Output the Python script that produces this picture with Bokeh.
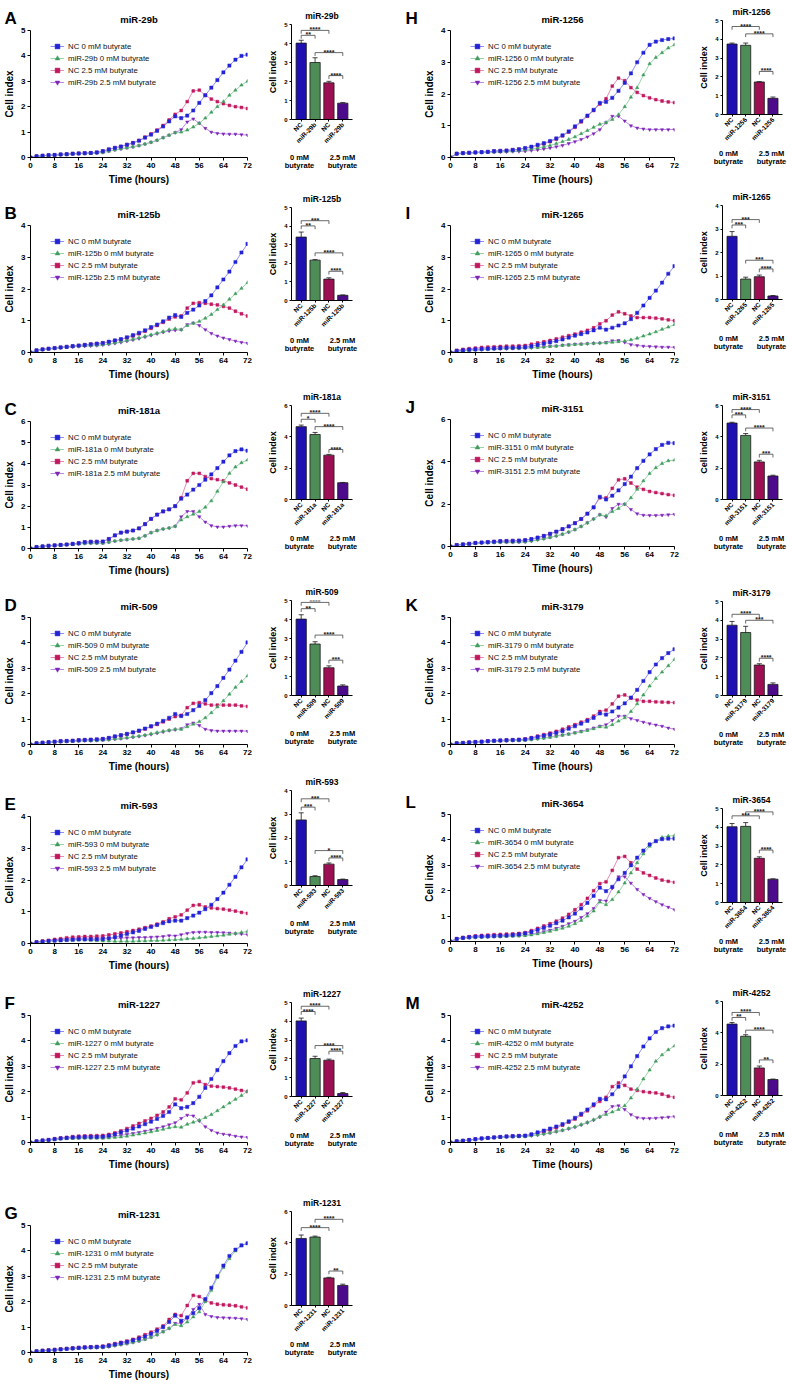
import math
from bokeh.plotting import figure
from bokeh.models import (Range1d, FactorRange, FixedTicker, LabelSet,
                          ColumnDataSource, Whisker, TeeHead, Legend, LegendItem)
from bokeh.layouts import row, column
from bokeh.embed import file_html
from bokeh.resources import INLINE
from bokeh.core.properties import value

FONT = "Liberation Sans"

# sampling grid of the real-time cell analysis curves (hours)
HOURS = list(range(0, 73, 2))

# ---------------- line-chart data (Cell index) ----------------
A_NC0 = [0.00,0.05,0.07,0.09,0.10,0.12,0.13,0.15,0.16,0.17,0.18,0.20,0.25, 0.32,0.38,0.43,0.50,0.57,0.66,0.78,0.90,1.05,1.22,1.42,1.62, 1.55,1.65,1.85,2.15,2.45,2.75,3.05,3.35,3.62,3.85,4.00,4.05]
A_MIR0 = [0.00,0.05,0.07,0.08,0.10,0.11,0.12,0.14,0.15,0.16,0.17,0.18,0.20, 0.25,0.30,0.34,0.38,0.42,0.47,0.53,0.60,0.68,0.78,0.88,0.98, 1.00,1.08,1.20,1.35,1.55,1.78,2.00,2.20,2.45,2.65,2.85,3.00]
A_NC25 = [0.00,0.05,0.07,0.09,0.10,0.12,0.13,0.15,0.16,0.17,0.18,0.20,0.25, 0.32,0.38,0.44,0.51,0.58,0.67,0.80,0.93,1.08,1.26,1.48,1.70, 1.85,2.20,2.62,2.65,2.45,2.30,2.20,2.12,2.05,2.00,1.97,1.93]
A_MIR25 = [0.00,0.05,0.07,0.08,0.10,0.11,0.12,0.14,0.15,0.16,0.17,0.18,0.20, 0.25,0.30,0.34,0.38,0.42,0.47,0.53,0.60,0.68,0.78,0.88,0.98, 1.10,1.40,1.52,1.35,1.15,1.00,0.95,0.93,0.92,0.92,0.90,0.88]

B_NC0 = [0.00,0.07,0.10,0.12,0.14,0.16,0.18,0.20,0.22,0.24,0.26,0.28,0.30, 0.34,0.38,0.42,0.48,0.55,0.62,0.70,0.80,0.88,0.98,1.10,1.18, 1.12,1.25,1.35,1.48,1.62,1.80,2.05,2.30,2.55,2.85,3.15,3.42]
B_MIR0 = [0.00,0.06,0.09,0.11,0.13,0.15,0.17,0.19,0.20,0.21,0.22,0.23,0.25, 0.27,0.30,0.34,0.38,0.42,0.46,0.51,0.56,0.61,0.66,0.72,0.75, 0.72,0.85,0.92,0.98,1.08,1.20,1.35,1.50,1.68,1.85,2.02,2.20]
B_NC25 = [0.00,0.07,0.10,0.12,0.14,0.16,0.18,0.20,0.22,0.24,0.26,0.28,0.30, 0.33,0.37,0.41,0.46,0.52,0.59,0.67,0.76,0.85,0.95,1.05,1.12, 1.15,1.40,1.55,1.57,1.55,1.52,1.50,1.45,1.40,1.30,1.22,1.15]
B_MIR25 = [0.00,0.06,0.09,0.11,0.13,0.15,0.17,0.18,0.19,0.20,0.21,0.22,0.24, 0.26,0.29,0.32,0.36,0.40,0.44,0.49,0.54,0.59,0.64,0.68,0.70, 0.72,0.88,0.93,0.85,0.72,0.60,0.52,0.46,0.41,0.36,0.32,0.29]

C_NC0 = [0.00,0.07,0.10,0.13,0.15,0.17,0.19,0.22,0.25,0.30,0.32,0.32,0.33, 0.45,0.62,0.75,0.80,0.85,0.95,1.15,1.40,1.60,1.75,1.85,2.00, 2.35,2.55,2.78,3.00,3.25,3.50,3.80,4.10,4.40,4.60,4.68,4.62]
C_MIR0 = [0.00,0.07,0.10,0.12,0.14,0.16,0.18,0.20,0.22,0.24,0.25,0.25,0.25, 0.30,0.35,0.39,0.42,0.45,0.48,0.60,0.75,0.85,0.92,0.97,1.05, 1.35,1.50,1.62,1.75,1.95,2.25,2.70,3.15,3.55,3.85,4.05,4.18]
C_NC25 = [0.00,0.07,0.10,0.13,0.15,0.17,0.19,0.22,0.25,0.30,0.32,0.32,0.33, 0.45,0.62,0.75,0.80,0.85,0.95,1.15,1.40,1.60,1.75,1.85,2.00, 2.40,3.20,3.55,3.55,3.40,3.30,3.25,3.20,3.10,3.00,2.90,2.80]
C_MIR25 = [0.00,0.07,0.10,0.12,0.14,0.16,0.18,0.20,0.22,0.24,0.25,0.25,0.25, 0.30,0.35,0.39,0.42,0.45,0.48,0.60,0.75,0.85,0.92,0.97,1.05, 1.50,1.75,1.75,1.50,1.25,1.08,1.02,1.02,1.05,1.08,1.08,1.07]

D_NC0 = [0.00,0.05,0.07,0.09,0.11,0.13,0.14,0.15,0.17,0.18,0.19,0.20,0.22, 0.26,0.32,0.37,0.42,0.48,0.55,0.63,0.72,0.82,0.93,1.05,1.20, 1.12,1.20,1.35,1.52,1.75,2.02,2.30,2.62,2.95,3.30,3.65,4.02]
D_MIR0 = [0.00,0.05,0.07,0.08,0.10,0.11,0.12,0.13,0.14,0.15,0.15,0.16,0.17, 0.19,0.22,0.24,0.27,0.30,0.33,0.37,0.42,0.47,0.52,0.56,0.60, 0.60,0.70,0.80,0.90,1.05,1.25,1.48,1.72,1.98,2.25,2.48,2.70]
D_NC25 = [0.00,0.05,0.07,0.09,0.11,0.13,0.14,0.15,0.17,0.18,0.19,0.20,0.22, 0.26,0.31,0.36,0.41,0.47,0.53,0.61,0.70,0.79,0.89,1.00,1.10, 1.15,1.45,1.62,1.65,1.60,1.55,1.55,1.55,1.55,1.55,1.52,1.50]
D_MIR25 = [0.00,0.05,0.07,0.08,0.10,0.11,0.12,0.13,0.14,0.15,0.15,0.16,0.17, 0.19,0.21,0.23,0.26,0.29,0.32,0.36,0.40,0.45,0.50,0.55,0.58, 0.62,0.78,0.85,0.75,0.60,0.55,0.53,0.53,0.53,0.53,0.53,0.52]

E_NC0 = [0.00,0.04,0.06,0.08,0.09,0.10,0.11,0.12,0.13,0.13,0.13,0.13,0.14, 0.16,0.20,0.25,0.30,0.35,0.40,0.46,0.52,0.58,0.64,0.70,0.72, 0.72,0.80,0.88,0.97,1.08,1.22,1.40,1.60,1.85,2.10,2.40,2.65]
E_MIR0 = [0.00,0.03,0.05,0.07,0.08,0.09,0.10,0.10,0.11,0.11,0.10,0.09,0.08, 0.08,0.07,0.07,0.07,0.07,0.08,0.08,0.09,0.09,0.10,0.11,0.12, 0.13,0.15,0.16,0.18,0.20,0.22,0.24,0.26,0.29,0.32,0.35,0.38]
E_NC25 = [0.00,0.05,0.08,0.10,0.13,0.15,0.18,0.20,0.21,0.22,0.22,0.23,0.24, 0.27,0.30,0.33,0.37,0.41,0.45,0.50,0.55,0.61,0.68,0.78,0.84, 0.90,1.05,1.20,1.22,1.15,1.12,1.10,1.08,1.05,1.02,0.98,0.95]
E_MIR25 = [0.00,0.04,0.06,0.09,0.11,0.13,0.14,0.15,0.16,0.17,0.17,0.17,0.17, 0.17,0.17,0.17,0.18,0.18,0.19,0.19,0.20,0.21,0.22,0.25,0.24, 0.28,0.32,0.35,0.36,0.36,0.35,0.35,0.34,0.33,0.31,0.30,0.28]

F_NC0 = [0.00,0.05,0.08,0.10,0.13,0.16,0.18,0.20,0.21,0.22,0.22,0.22,0.23, 0.27,0.33,0.40,0.47,0.55,0.63,0.72,0.82,0.93,1.05,1.20,1.50, 1.35,1.40,1.55,1.80,2.15,2.50,2.85,3.20,3.52,3.80,3.98,4.02]
F_MIR0 = [0.00,0.04,0.07,0.10,0.12,0.14,0.15,0.16,0.17,0.17,0.17,0.17,0.17, 0.18,0.20,0.22,0.25,0.29,0.33,0.37,0.42,0.47,0.52,0.58,0.62, 0.60,0.72,0.80,0.88,0.98,1.10,1.25,1.40,1.55,1.70,1.85,2.02]
F_NC25 = [0.00,0.05,0.08,0.11,0.15,0.18,0.20,0.23,0.25,0.26,0.27,0.27,0.28, 0.32,0.38,0.46,0.55,0.65,0.75,0.85,0.95,1.07,1.20,1.40,1.72, 1.68,1.95,2.35,2.40,2.28,2.22,2.20,2.18,2.15,2.10,2.05,2.00]
F_MIR25 = [0.00,0.04,0.07,0.10,0.13,0.15,0.17,0.18,0.19,0.19,0.19,0.19,0.19, 0.22,0.25,0.28,0.32,0.36,0.40,0.45,0.50,0.56,0.62,0.70,0.78, 0.95,1.08,1.05,0.85,0.62,0.48,0.38,0.33,0.30,0.25,0.22,0.20]

G_NC0 = [0.00,0.05,0.07,0.08,0.10,0.12,0.14,0.16,0.18,0.20,0.21,0.22,0.23, 0.27,0.32,0.37,0.42,0.48,0.55,0.63,0.73,0.85,1.00,1.20,1.45, 1.25,1.38,1.55,1.75,2.10,2.55,3.00,3.42,3.80,4.05,4.22,4.30]
G_MIR0 = [0.00,0.05,0.07,0.08,0.10,0.12,0.14,0.15,0.17,0.18,0.19,0.19,0.20, 0.23,0.27,0.31,0.35,0.40,0.45,0.52,0.60,0.70,0.82,0.95,1.10, 1.05,1.20,1.40,1.60,2.00,2.45,2.95,3.35,3.70,4.00,4.20,4.30]
G_NC25 = [0.00,0.05,0.08,0.10,0.12,0.14,0.16,0.18,0.20,0.21,0.22,0.23,0.25, 0.30,0.35,0.40,0.45,0.52,0.60,0.70,0.80,0.92,1.05,1.30,1.50, 1.45,1.85,2.25,2.20,2.05,1.95,1.90,1.88,1.86,1.84,1.80,1.76]
G_MIR25 = [0.00,0.05,0.07,0.08,0.10,0.12,0.14,0.15,0.17,0.18,0.19,0.19,0.20, 0.23,0.27,0.31,0.35,0.40,0.45,0.52,0.60,0.70,0.82,0.95,1.15, 1.15,1.35,1.70,1.90,1.50,1.42,1.38,1.37,1.36,1.35,1.33,1.30]

H_NC0 = [0.00,0.12,0.14,0.15,0.16,0.17,0.18,0.20,0.21,0.22,0.24,0.26,0.30, 0.34,0.40,0.45,0.52,0.60,0.70,0.82,0.98,1.15,1.32,1.50,1.72, 1.75,1.88,2.10,2.35,2.65,3.00,3.30,3.55,3.65,3.70,3.73,3.75]
H_MIR0 = [0.00,0.12,0.13,0.14,0.15,0.16,0.17,0.17,0.18,0.19,0.20,0.22,0.24, 0.27,0.30,0.34,0.38,0.44,0.50,0.57,0.65,0.75,0.85,0.95,1.05, 1.10,1.20,1.35,1.60,1.90,2.20,2.60,2.95,3.15,3.30,3.45,3.55]
H_NC25 = [0.00,0.12,0.14,0.15,0.16,0.17,0.18,0.20,0.21,0.22,0.24,0.26,0.29, 0.33,0.38,0.43,0.50,0.58,0.68,0.80,0.95,1.12,1.30,1.48,1.68, 1.85,2.25,2.50,2.42,2.20,2.05,1.95,1.88,1.82,1.78,1.75,1.73]
H_MIR25 = [0.00,0.11,0.13,0.14,0.15,0.16,0.17,0.17,0.18,0.18,0.19,0.19,0.20, 0.22,0.24,0.27,0.30,0.34,0.38,0.44,0.50,0.57,0.65,0.75,0.88, 1.10,1.30,1.30,1.15,1.00,0.93,0.90,0.88,0.88,0.88,0.88,0.88]

I_NC0 = [0.00,0.05,0.07,0.09,0.10,0.11,0.12,0.13,0.14,0.15,0.15,0.16,0.17, 0.20,0.24,0.28,0.32,0.36,0.41,0.47,0.53,0.58,0.63,0.70,0.78, 0.72,0.78,0.85,0.92,1.05,1.25,1.48,1.72,1.95,2.20,2.48,2.72]
I_MIR0 = [0.00,0.04,0.05,0.07,0.08,0.09,0.10,0.11,0.12,0.12,0.13,0.13,0.14, 0.15,0.16,0.17,0.19,0.20,0.22,0.23,0.25,0.26,0.28,0.29,0.30, 0.30,0.32,0.34,0.36,0.40,0.45,0.52,0.58,0.65,0.73,0.80,0.88]
I_NC25 = [0.00,0.07,0.10,0.12,0.14,0.16,0.17,0.18,0.19,0.20,0.20,0.21,0.22, 0.26,0.30,0.34,0.38,0.43,0.48,0.53,0.58,0.64,0.70,0.78,0.90, 1.00,1.18,1.28,1.22,1.15,1.10,1.10,1.10,1.08,1.06,1.03,1.00]
I_MIR25 = [0.00,0.04,0.05,0.07,0.08,0.09,0.10,0.11,0.12,0.12,0.13,0.13,0.14, 0.15,0.17,0.18,0.20,0.21,0.23,0.25,0.26,0.27,0.28,0.29,0.30, 0.32,0.37,0.38,0.32,0.25,0.22,0.20,0.19,0.18,0.17,0.17,0.16]

J_NC0 = [0.00,0.07,0.10,0.13,0.17,0.19,0.21,0.23,0.25,0.26,0.27,0.28,0.30, 0.35,0.42,0.50,0.60,0.70,0.82,0.95,1.10,1.30,1.55,1.85,2.35, 2.22,2.40,2.65,2.95,3.30,3.70,4.05,4.35,4.60,4.80,4.90,4.88]
J_MIR0 = [0.00,0.07,0.10,0.12,0.15,0.17,0.18,0.19,0.20,0.20,0.20,0.21,0.22, 0.26,0.32,0.37,0.43,0.50,0.58,0.68,0.80,0.95,1.12,1.30,1.50, 1.45,1.65,1.80,2.00,2.30,2.70,3.10,3.45,3.72,3.92,4.05,4.08]
J_NC25 = [0.00,0.07,0.10,0.13,0.17,0.19,0.21,0.23,0.25,0.26,0.27,0.28,0.30, 0.35,0.42,0.50,0.60,0.70,0.82,0.95,1.10,1.30,1.55,1.85,2.30, 2.30,2.75,3.15,3.20,3.00,2.80,2.70,2.60,2.55,2.50,2.45,2.42]
J_MIR25 = [0.00,0.07,0.10,0.12,0.15,0.17,0.18,0.19,0.20,0.20,0.20,0.21,0.22, 0.26,0.32,0.37,0.43,0.50,0.58,0.68,0.80,0.95,1.12,1.30,1.50, 1.40,1.80,2.00,2.00,1.75,1.55,1.48,1.47,1.47,1.48,1.50,1.52]

K_NC0 = [0.00,0.05,0.06,0.08,0.10,0.11,0.13,0.15,0.16,0.17,0.18,0.19,0.20, 0.25,0.30,0.35,0.40,0.46,0.53,0.62,0.72,0.82,0.93,1.05,1.22, 1.18,1.30,1.45,1.62,1.85,2.15,2.50,2.85,3.15,3.40,3.60,3.75]
K_MIR0 = [0.00,0.05,0.06,0.08,0.09,0.10,0.12,0.13,0.14,0.15,0.16,0.16,0.17, 0.19,0.22,0.25,0.28,0.32,0.36,0.40,0.45,0.50,0.55,0.62,0.70, 0.68,0.78,0.92,1.05,1.30,1.60,1.95,2.30,2.60,2.85,3.10,3.35]
K_NC25 = [0.00,0.05,0.07,0.09,0.10,0.12,0.14,0.15,0.16,0.17,0.18,0.19,0.22, 0.27,0.33,0.39,0.45,0.52,0.60,0.69,0.78,0.88,0.98,1.12,1.30, 1.35,1.60,1.90,1.95,1.82,1.75,1.70,1.70,1.68,1.67,1.66,1.65]
K_MIR25 = [0.00,0.05,0.06,0.08,0.09,0.10,0.12,0.13,0.14,0.15,0.16,0.16,0.17, 0.20,0.23,0.26,0.30,0.34,0.38,0.42,0.47,0.52,0.58,0.65,0.72, 0.78,0.95,1.12,1.12,1.02,0.95,0.88,0.82,0.77,0.72,0.65,0.60]

L_NC0 = [0.00,0.10,0.14,0.17,0.19,0.20,0.21,0.22,0.23,0.24,0.26,0.28,0.32, 0.38,0.46,0.54,0.62,0.72,0.82,0.95,1.10,1.30,1.52,1.80,2.12, 1.98,2.15,2.45,2.70,3.00,3.30,3.58,3.82,3.95,4.03,4.05,4.05]
L_MIR0 = [0.00,0.10,0.13,0.15,0.16,0.17,0.18,0.19,0.19,0.20,0.21,0.22,0.23, 0.26,0.30,0.35,0.40,0.46,0.52,0.60,0.70,0.83,1.00,1.20,1.55, 1.45,1.65,1.95,2.30,2.70,3.10,3.45,3.75,3.95,4.10,4.15,4.17]
L_NC25 = [0.00,0.11,0.16,0.19,0.22,0.24,0.25,0.27,0.28,0.29,0.30,0.32,0.35, 0.43,0.52,0.61,0.70,0.80,0.92,1.07,1.25,1.45,1.70,2.00,2.28, 2.35,2.80,3.30,3.35,3.10,2.85,2.70,2.60,2.50,2.42,2.37,2.33]
L_MIR25 = [0.00,0.10,0.13,0.15,0.16,0.17,0.18,0.19,0.20,0.21,0.22,0.23,0.25, 0.29,0.33,0.39,0.45,0.52,0.60,0.70,0.80,0.95,1.10,1.30,1.62, 1.60,2.10,2.55,2.55,2.30,2.05,1.85,1.70,1.57,1.45,1.35,1.25]

M_NC0 = [0.00,0.05,0.07,0.10,0.13,0.16,0.18,0.20,0.22,0.24,0.25,0.26,0.27, 0.32,0.40,0.47,0.55,0.63,0.72,0.83,0.97,1.13,1.30,1.50,1.72, 1.70,1.90,2.20,2.60,3.00,3.40,3.78,4.10,4.35,4.50,4.57,4.60]
M_MIR0 = [0.00,0.05,0.07,0.10,0.12,0.15,0.17,0.19,0.21,0.22,0.23,0.24,0.24, 0.27,0.30,0.34,0.38,0.43,0.48,0.55,0.62,0.71,0.80,0.90,1.02, 1.10,1.20,1.30,1.45,1.75,2.10,2.50,2.85,3.20,3.45,3.65,3.80]
M_NC25 = [0.00,0.05,0.07,0.10,0.13,0.16,0.18,0.20,0.22,0.24,0.25,0.26,0.27, 0.32,0.37,0.43,0.50,0.58,0.68,0.80,0.92,1.08,1.25,1.45,1.62, 1.78,2.20,2.35,2.25,2.10,2.05,2.00,1.97,1.95,1.90,1.82,1.78]
M_MIR25 = [0.00,0.05,0.07,0.10,0.12,0.15,0.17,0.19,0.21,0.22,0.23,0.24,0.24, 0.27,0.30,0.34,0.38,0.43,0.48,0.54,0.60,0.69,0.78,0.88,1.00, 1.20,1.42,1.45,1.30,1.10,0.98,0.95,0.95,0.96,0.98,1.00,1.02]

# ---------------- bar-chart data (mean, SD, significance) ----------------
BAR_A = [4.02, 3.00, 1.93, 0.86]; ERR_A = [0.15, 0.25, 0.08, 0.03]
SIG_A = [(0, 2, 4.69, "****"), (0, 1, 4.43, "**"), (1, 3, 3.52, "****"), (2, 3, 2.31, "****")]
BAR_B = [3.41, 2.17, 1.15, 0.28]; ERR_B = [0.27, 0.03, 0.07, 0.02]
SIG_B = [(0, 2, 4.29, "***"), (0, 1, 4.01, "**"), (1, 3, 2.56, "****"), (2, 3, 1.57, "****")]
BAR_C = [4.65, 4.15, 2.83, 1.07]; ERR_C = [0.10, 0.13, 0.05, 0.02]
SIG_C = [(0, 2, 5.50, "****"), (0, 1, 5.12, "*"), (1, 3, 4.65, "****"), (2, 3, 3.19, "****")]
BAR_D = [4.02, 2.71, 1.46, 0.50]; ERR_D = [0.23, 0.12, 0.10, 0.06]
SIG_D = [(0, 2, 4.90, "****"), (0, 1, 4.57, "**"), (1, 3, 3.18, "****"), (2, 3, 1.86, "***")]
BAR_E = [2.76, 0.38, 0.90, 0.25]; ERR_E = [0.30, 0.03, 0.05, 0.02]
SIG_E = [(0, 2, 3.65, "***"), (0, 1, 3.30, "***"), (1, 3, 1.47, "*"), (2, 3, 1.16, "****")]
BAR_F = [4.02, 2.02, 1.93, 0.16]; ERR_F = [0.15, 0.12, 0.06, 0.05]
SIG_F = [(0, 2, 4.80, "****"), (0, 1, 4.52, "****"), (1, 3, 2.71, "****"), (2, 3, 2.41, "****")]
BAR_G = [4.28, 4.37, 1.76, 1.28]; ERR_G = [0.22, 0.06, 0.04, 0.08]
SIG_G = [(0, 2, 4.97, "****"), (1, 3, 5.50, "****"), (2, 3, 2.20, "**")]
BAR_H = [3.75, 3.68, 1.73, 0.86]; ERR_H = [0.05, 0.12, 0.02, 0.07]
SIG_H = [(0, 2, 4.68, "****"), (1, 3, 4.29, "****"), (2, 3, 2.29, "****")]
BAR_I = [2.69, 0.87, 0.97, 0.15]; ERR_I = [0.20, 0.08, 0.07, 0.02]
SIG_I = [(0, 2, 3.40, "***"), (0, 1, 3.17, "***"), (1, 3, 1.67, "***"), (2, 3, 1.30, "****")]
BAR_J = [4.88, 4.09, 2.40, 1.50]; ERR_J = [0.05, 0.12, 0.10, 0.05]
SIG_J = [(0, 2, 5.74, "****"), (0, 1, 5.40, "***"), (1, 3, 4.56, "****"), (2, 3, 2.89, "***")]
BAR_K = [3.74, 3.35, 1.62, 0.59]; ERR_K = [0.20, 0.33, 0.07, 0.08]
SIG_K = [(0, 2, 4.32, "****"), (1, 3, 4.00, "***"), (2, 3, 1.98, "****")]
BAR_L = [4.03, 4.05, 2.35, 1.24]; ERR_L = [0.17, 0.20, 0.08, 0.02]
SIG_L = [(0, 2, 4.61, "***"), (1, 3, 4.82, "****"), (2, 3, 2.79, "****")]
BAR_M = [4.56, 3.78, 1.76, 1.02]; ERR_M = [0.10, 0.10, 0.12, 0.03]
SIG_M = [(0, 2, 5.30, "****"), (0, 1, 4.98, "**"), (1, 3, 4.17, "****"), (2, 3, 2.27, "**")]

GROUP_LINES = [("0 mM", "butyrate"), ("2.5 mM", "butyrate")]

PANELS = [
    dict(letter="A", mir="miR-29b", series=[A_NC0, A_MIR0, A_NC25, A_MIR25], ymax=5, ystep=1, bars=BAR_A, errs=ERR_A, sigs=SIG_A, bymax=5, bystep=1),
    dict(letter="B", mir="miR-125b", series=[B_NC0, B_MIR0, B_NC25, B_MIR25], ymax=4, ystep=1, bars=BAR_B, errs=ERR_B, sigs=SIG_B, bymax=5, bystep=1),
    dict(letter="C", mir="miR-181a", series=[C_NC0, C_MIR0, C_NC25, C_MIR25], ymax=6, ystep=1, bars=BAR_C, errs=ERR_C, sigs=SIG_C, bymax=6, bystep=2),
    dict(letter="D", mir="miR-509", series=[D_NC0, D_MIR0, D_NC25, D_MIR25], ymax=5, ystep=1, bars=BAR_D, errs=ERR_D, sigs=SIG_D, bymax=5, bystep=1),
    dict(letter="E", mir="miR-593", series=[E_NC0, E_MIR0, E_NC25, E_MIR25], ymax=4, ystep=1, bars=BAR_E, errs=ERR_E, sigs=SIG_E, bymax=4, bystep=1),
    dict(letter="F", mir="miR-1227", series=[F_NC0, F_MIR0, F_NC25, F_MIR25], ymax=5, ystep=1, bars=BAR_F, errs=ERR_F, sigs=SIG_F, bymax=5, bystep=1),
    dict(letter="G", mir="miR-1231", series=[G_NC0, G_MIR0, G_NC25, G_MIR25], ymax=5, ystep=1, bars=BAR_G, errs=ERR_G, sigs=SIG_G, bymax=6, bystep=2),
    dict(letter="H", mir="miR-1256", series=[H_NC0, H_MIR0, H_NC25, H_MIR25], ymax=4, ystep=1, bars=BAR_H, errs=ERR_H, sigs=SIG_H, bymax=5, bystep=1),
    dict(letter="I", mir="miR-1265", series=[I_NC0, I_MIR0, I_NC25, I_MIR25], ymax=4, ystep=1, bars=BAR_I, errs=ERR_I, sigs=SIG_I, bymax=4, bystep=1),
    dict(letter="J", mir="miR-3151", series=[J_NC0, J_MIR0, J_NC25, J_MIR25], ymax=6, ystep=2, bars=BAR_J, errs=ERR_J, sigs=SIG_J, bymax=6, bystep=2),
    dict(letter="K", mir="miR-3179", series=[K_NC0, K_MIR0, K_NC25, K_MIR25], ymax=5, ystep=1, bars=BAR_K, errs=ERR_K, sigs=SIG_K, bymax=5, bystep=1),
    dict(letter="L", mir="miR-3654", series=[L_NC0, L_MIR0, L_NC25, L_MIR25], ymax=5, ystep=1, bars=BAR_L, errs=ERR_L, sigs=SIG_L, bymax=5, bystep=1),
    dict(letter="M", mir="miR-4252", series=[M_NC0, M_MIR0, M_NC25, M_MIR25], ymax=5, ystep=1, bars=BAR_M, errs=ERR_M, sigs=SIG_M, bymax=6, bystep=2),
]

for pn in PANELS:
    for s in pn["series"]:
        assert len(s) == len(HOURS), (pn["letter"], len(s))

# ---------------- styling ----------------
LINE_COLORS = ["#8f8ff0", "#9ad4aa", "#e58cb6", "#bb8ee6"]
MARK_COLORS = ["#2323d6", "#3f9c5d", "#c0185e", "#7e24b8"]
MARKERS = ["square", "triangle", "square", "inverted_triangle"]
MARK_SIZES = [3.2, 3.4, 2.8, 3.2]
BAR_COLORS = ["#1f10b2", "#4e8c58", "#9c0f52", "#4b0b8b"]
ZW = "\u200b"  # zero-width marker keeping the repeated tick names distinct


def blank_fig(width, height):
    p = figure(width=width, height=height, x_range=Range1d(0, width), y_range=Range1d(0, height),
               output_backend="svg", toolbar_location=None,
               x_axis_location=None, y_axis_location=None,
               min_border=0, min_border_left=0, min_border_right=0,
               min_border_top=0, min_border_bottom=0, frame_align=False)
    p.outline_line_color = None
    p.grid.visible = False
    return p


def put_text(p, x, y, txt, size, align="center", bold=True):
    p.text(x=[x], y=[y], text=[txt], text_font=value(FONT), text_font_size=size,
           text_font_style="bold" if bold else "normal", text_color="black",
           text_align=align, text_baseline="alphabetic")


def style_axes(p, tick_size, label_size, tick_out=3):
    for ax in (p.xaxis[0], p.yaxis[0]):
        ax.axis_line_color = "black"
        ax.axis_line_width = 1
        ax.major_tick_line_color = "black"
        ax.major_tick_in = 0
        ax.major_tick_out = tick_out
        ax.minor_tick_line_color = None
        ax.major_label_text_font = FONT
        ax.major_label_text_font_size = tick_size
        ax.major_label_text_font_style = "bold"
        ax.major_label_text_color = "black"
        ax.axis_label_text_font = FONT
        ax.axis_label_text_font_size = label_size
        ax.axis_label_text_font_style = "bold"
        ax.axis_label_text_color = "black"
        ax.major_label_standoff = 2
        ax.axis_label_standoff = 3
    p.grid.visible = False
    p.outline_line_color = None


def line_panel(pn, width, height, left, right, lx, head=26, top=4, fh=127):
    fw = width - left - right
    hd = blank_fig(width, head)
    put_text(hd, lx, 8, pn["letter"], "17px", align="left")
    put_text(hd, left + fw / 2, 7, pn["mir"], "9.5px")

    body_h = height - head
    bottom = body_h - top - fh
    p = figure(width=width, height=body_h, x_range=Range1d(0, 72), y_range=Range1d(0, pn["ymax"]),
               output_backend="svg", toolbar_location=None,
               min_border_left=left, min_border_right=right,
               min_border_top=top, min_border_bottom=bottom, frame_align=False)
    style_axes(p, "8px", "10px")
    p.xaxis.ticker = FixedTicker(ticks=list(range(0, 73, 8)))
    p.yaxis.ticker = FixedTicker(ticks=list(range(0, pn["ymax"] + 1, pn["ystep"])))
    p.xaxis.axis_label = "Time (hours)"
    p.yaxis.axis_label = "Cell index"
    mir = pn["mir"]
    labels = ["NC 0 mM butyrate", f"{mir} 0 mM butyrate", "NC 2.5 mM butyrate", f"{mir} 2.5 mM butyrate"]
    rends = {}
    for k in [3, 2, 1, 0]:
        src = ColumnDataSource(dict(t=HOURS, ci=pn["series"][k]))
        lr = p.line("t", "ci", source=src, line_color=LINE_COLORS[k], line_width=1.0)
        sr = p.scatter("t", "ci", source=src, marker=MARKERS[k], size=MARK_SIZES[k],
                       fill_color=MARK_COLORS[k], line_color=MARK_COLORS[k], line_width=0.5)
        rends[k] = [lr, sr]
    items = [LegendItem(label=labels[k], renderers=rends[k]) for k in range(4)]
    leg = Legend(items=items, location=(20, fh - 10 - 48), padding=0, margin=0, spacing=0,
                 label_height=12, glyph_height=12, glyph_width=14, label_standoff=4,
                 label_text_font=FONT, label_text_font_size="7.8px", label_text_color="#111111",
                 border_line_color=None, background_fill_alpha=0)
    p.add_layout(leg)
    return column(hd, p, spacing=0)


def bar_panel(pn, width, height, left, right, head=12, top=4, fh=95, bot=31):
    fw = width - left - right
    mir = pn["mir"]
    hd = blank_fig(width, head)
    put_text(hd, left + fw / 2, 5, mir, "8.5px")

    keys = ["NC", mir, "NC" + ZW, mir + ZW]
    xr = FactorRange(*keys, factor_padding=0, range_padding=0.1)
    p = figure(width=width, height=top + fh + bot, x_range=xr, y_range=Range1d(0, pn["bymax"]),
               output_backend="svg", toolbar_location=None,
               min_border_left=left, min_border_right=right,
               min_border_top=top, min_border_bottom=bot, frame_align=False)
    style_axes(p, "6px", "9px", tick_out=2)
    p.yaxis.ticker = FixedTicker(ticks=list(range(0, pn["bymax"] + 1, pn["bystep"])))
    p.yaxis.axis_label = "Cell index"
    p.xaxis.major_label_orientation = math.pi / 4
    p.xaxis.major_label_text_font_size = "6.5px"

    up = [v + e for v, e in zip(pn["bars"], pn["errs"])]
    src = ColumnDataSource(dict(x=keys, top=pn["bars"], up=up, color=BAR_COLORS))
    p.vbar(x="x", top="top", width=0.74, fill_color="color", line_color="#1a1a1a",
           line_width=0.8, source=src)
    p.add_layout(Whisker(source=src, base="x", upper="up", lower="top", line_color="#1a1a1a",
                         line_width=0.8, upper_head=TeeHead(size=5, line_color="#1a1a1a", line_width=0.8),
                         lower_head=None, level="overlay"))

    # significance brackets (categorical synthetic coordinates: bar i centre = i + 0.5)
    tk = 0.035 * pn["bymax"]
    x0, x1, y0, y1, xm, ym, lab = [], [], [], [], [], [], []
    for i, j, y, s in pn["sigs"]:
        ci, cj = i + 0.5, j + 0.5
        x0 += [ci, ci, cj]; x1 += [cj, ci, cj]
        y0 += [y, y, y]; y1 += [y, y - tk, y - tk]
        xm.append((ci + cj) / 2); ym.append(y); lab.append(s)
    p.segment(x0="x0", y0="y0", x1="x1", y1="y1", line_color="#444444", line_width=0.8,
              source=ColumnDataSource(dict(x0=x0, x1=x1, y0=y0, y1=y1)))
    p.add_layout(LabelSet(x="xm", y="ym", text="lab", source=ColumnDataSource(dict(xm=xm, ym=ym, lab=lab)),
                          text_align="center", text_baseline="alphabetic", y_offset=-2,
                          text_font=value(FONT), text_font_size="7px", text_font_style="bold",
                          text_color="#222222"))

    foot_h = height - head - (top + fh + bot)
    ft = blank_fig(width, foot_h)
    for cx, (l1, l2) in zip([left + 8, left + 51], GROUP_LINES):
        put_text(ft, cx, foot_h - 7, l1, "7.5px")
        put_text(ft, cx, foot_h - 15, l2, "7.5px")
    return column(hd, p, ft, spacing=0)


LEFT, RIGHT = PANELS[:7], PANELS[7:]
LINE_H_LEFT = [195, 196, 196, 199, 199, 210, 190]
BAR_H_LEFT = [191, 198, 195, 190, 212, 209, 190]
BAR_HEAD_LEFT = [20, 12, 12, 12, 12, 12, 12]
LINE_H_RIGHT = [195, 194, 198, 197, 201, 190]
BAR_H_RIGHT = [189, 200, 196, 207, 193, 190]
BAR_HEAD_RIGHT = [16, 12, 12, 12, 12, 12]

left_lines = [line_panel(pn, 260, h, 30, 13, lx=4) for pn, h in zip(LEFT, LINE_H_LEFT)]
left_bars = [bar_panel(pn, 140, h, 31, 48, head=hh) for pn, h, hh in zip(LEFT, BAR_H_LEFT, BAR_HEAD_LEFT)]
right_lines = [line_panel(pn, 296, h, 50, 22, lx=5) for pn, h in zip(RIGHT, LINE_H_RIGHT)]
right_bars = [bar_panel(pn, 96, h, 24, 10, head=hh) for pn, h, hh in zip(RIGHT, BAR_H_RIGHT, BAR_HEAD_RIGHT)]

layout = row(column(*left_lines, spacing=0), column(*left_bars, spacing=0),
             column(*right_lines, spacing=0), column(*right_bars, spacing=0), spacing=0)

with open("out.html", "w") as f:
    f.write(file_html(layout, INLINE))
